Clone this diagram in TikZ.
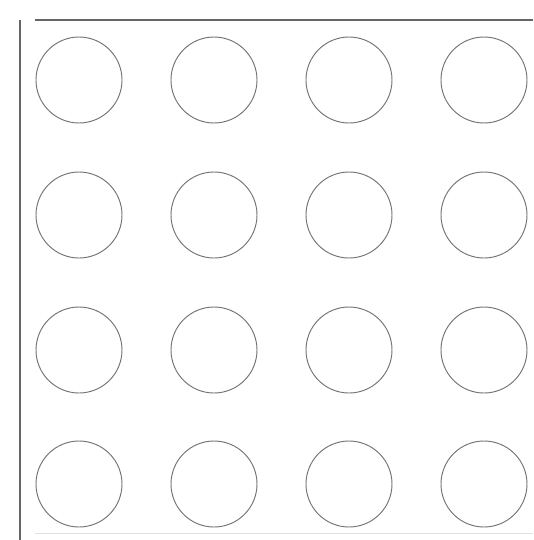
\documentclass[tikz,border=0pt]{standalone}
\begin{document}
\begin{tikzpicture}[x=0.75pt,y=-0.75pt,
  ring/.style={circle,draw=black!55,line width=0.7pt,minimum size=64.5pt,inner sep=0pt},
  edgeline/.style={draw=black!60,line width=0.9pt}]
\useasboundingbox (0,0) rectangle (533,540);
\fill[white] (0,0) rectangle (533,540);
\coordinate (tl) at (35,20);
\coordinate (tr) at (533,20);
\coordinate (lt) at (20,20);
\coordinate (lb) at (20,540);
\draw[edgeline] (tl) -- (tr);
\draw[edgeline] (lt) -- (lb);
\coordinate (bl) at (35,533);
\coordinate (br) at (533,533);
\draw[draw=black!12,line width=0.6pt] (bl) -- (br);
\foreach \i/\y in {1/80,2/215,3/350,4/484}{
  \foreach \j/\x in {1/79,2/214,3/349,4/484}{
    \node[ring] (c\i\j) at (\x,\y) {};
  }
}
\end{tikzpicture}
\end{document}
